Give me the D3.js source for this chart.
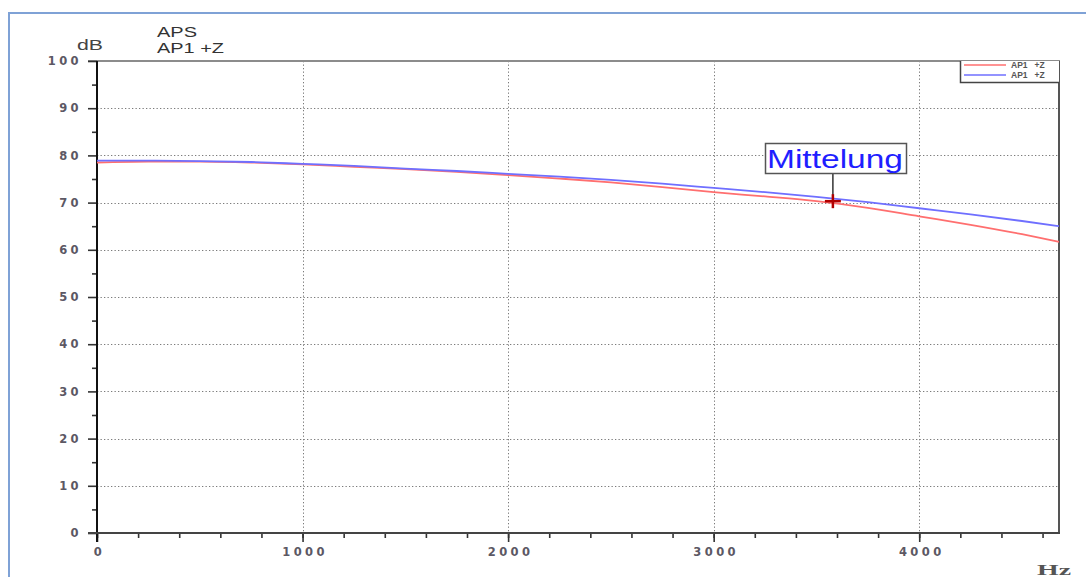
<!DOCTYPE html>
<html>
<head>
<meta charset="utf-8">
<script src="https://cdn.jsdelivr.net/npm/d3@7"></script>
<style>
  html, body { margin: 0; padding: 0; background: #fff; }
  svg { display: block; }
</style>
</head>
<body>
<svg id="chart" width="1086" height="577"></svg>
<script>
// Frequency grid (Hz) shared by both spectra
const freqs = [0, 250, 500, 750, 1000, 1250, 1500, 1750, 2000, 2250, 2500, 2750,
               3000, 3250, 3500, 3750, 4000, 4250, 4500, 4680];
// Level of the red trace (dB)
const redLevels = [78.5, 78.7, 78.7, 78.5, 78.1, 77.6, 77.1, 76.5, 75.8, 75.1, 74.3, 73.3,
                   72.2, 71.3, 70.3, 68.9, 67.1, 65.3, 63.3, 61.7];
// Level of the blue trace (dB)
const blueLevels = [78.9, 78.9, 78.8, 78.6, 78.2, 77.8, 77.2, 76.7, 76.1, 75.5, 74.8, 74.0,
                    73.1, 72.2, 71.2, 70.1, 68.8, 67.5, 66.1, 65.0];
const xTicks = [0, 1000, 2000, 3000, 4000];
const xMinorTicks = d3.range(0, 4601, 200);
const yTicks = [0, 10, 20, 30, 40, 50, 60, 70, 80, 90, 100];
const yMinorTicks = d3.range(5, 100, 10);
const legendLabels = ["AP1   +Z", "AP1   +Z"];
const titleLines = ["APS", "AP1 +Z"];
const marker = { label: "Mittelung", freq: 3580, level: 70.3 };

const svg = d3.select("#chart");
const plotL = 97, plotR = 1059, plotT = 61, plotB = 533;

const x = d3.scaleLinear().domain([0, 4680]).range([plotL, plotR]);
const y = d3.scaleLinear().domain([0, 100]).range([plotB, plotT]);

// Outer window frame
svg.append("path")
  .attr("d", `M9,577 L9,13 L1086,13`)
  .attr("fill", "none").attr("stroke", "#7fa2d6").attr("stroke-width", 2);

// Dotted grid
const grid = svg.append("g").attr("stroke", "#7a7a7a").attr("stroke-width", 1)
  .attr("stroke-dasharray", "1.3,2.2");
grid.selectAll("line.h").data(yTicks.filter(d => d > 0 && d < 100)).join("line")
  .attr("x1", plotL).attr("x2", plotR)
  .attr("y1", d => Math.round(y(d)) + 0.5).attr("y2", d => Math.round(y(d)) + 0.5);
grid.selectAll("line.v").data(xTicks.filter(d => d > 0)).join("line")
  .attr("y1", plotT).attr("y2", plotB)
  .attr("x1", d => Math.round(x(d)) + 0.5).attr("x2", d => Math.round(x(d)) + 0.5);

// Plot frame: grey top, dark right border
svg.append("line").attr("x1", 88).attr("x2", plotR + 1).attr("y1", plotT).attr("y2", plotT)
  .attr("stroke", "#8c8c8c").attr("stroke-width", 2.2);
svg.append("line").attr("x1", plotR).attr("x2", plotR).attr("y1", plotT).attr("y2", plotB)
  .attr("stroke", "#555").attr("stroke-width", 2);

// Axes
const tickFont = "'DejaVu Sans', sans-serif";
const yAxis = d3.axisLeft(y).tickValues(yTicks).tickSize(9).tickPadding(9)
  .tickFormat(d3.format("d"));
const yAxisMinor = d3.axisLeft(y).tickValues(yMinorTicks).tickSize(5).tickFormat("");
const xAxis = d3.axisBottom(x).tickValues(xTicks).tickSize(9).tickPadding(6)
  .tickFormat(d3.format("d"));
const xAxisMinor = d3.axisBottom(x).tickValues(xMinorTicks).tickSize(5).tickFormat("");

function styleAxis(g) {
  g.select(".domain").remove();
  g.selectAll("line").attr("stroke", "#333").attr("stroke-width", 1.6);
  g.selectAll("text").attr("fill", "#5c5864").attr("font-family", tickFont)
    .attr("font-weight", "bold").attr("font-size", 11.5).attr("letter-spacing", "3.4px");
}
svg.append("g").attr("transform", `translate(${plotL},0)`).call(yAxisMinor).call(styleAxis);
svg.append("g").attr("transform", `translate(${plotL},0)`).call(yAxis).call(styleAxis)
  .selectAll("text").attr("dx", "3px");
svg.append("g").attr("transform", `translate(0,${plotB})`).call(xAxisMinor).call(styleAxis);
svg.append("g").attr("transform", `translate(0,${plotB})`).call(xAxis).call(styleAxis)
  .selectAll("text").attr("dx", "2px");

svg.append("line").attr("x1", plotL).attr("x2", plotL).attr("y1", plotT).attr("y2", plotB + 9)
  .attr("stroke", "#111").attr("stroke-width", 2);
svg.append("line").attr("x1", 88).attr("x2", plotR + 1).attr("y1", plotB).attr("y2", plotB)
  .attr("stroke", "#444").attr("stroke-width", 2);

// Spectra
const line = d3.line().x((d, i) => x(freqs[i])).y(d => y(d)).curve(d3.curveMonotoneX);
svg.append("path").datum(redLevels).attr("d", line)
  .attr("fill", "none").attr("stroke", "#ff6f6f").attr("stroke-width", 1.8);
svg.append("path").datum(blueLevels).attr("d", line)
  .attr("fill", "none").attr("stroke", "#6f6fff").attr("stroke-width", 1.8);

// Legend
const lg = svg.append("g");
lg.append("rect").attr("x", 960).attr("y", plotT).attr("width", plotR - 960).attr("height", 21)
  .attr("fill", "#fff");
lg.append("path").attr("d", `M960.5,${plotT} L960.5,82.5 L${plotR},82.5`)
  .attr("fill", "none").attr("stroke", "#444").attr("stroke-width", 1.5);
const legendColors = ["#ff6f6f", "#6f6fff"];
legendLabels.forEach((lab, i) => {
  const yy = 65 + i * 10;
  lg.append("line").attr("x1", 964).attr("x2", 1006).attr("y1", yy).attr("y2", yy)
    .attr("stroke", legendColors[i]).attr("stroke-width", 1.4);
  lg.append("text").attr("x", 1011).attr("y", yy + 3).text(lab)
    .attr("font-family", "'Liberation Sans', Arial, sans-serif").attr("font-size", 8.5)
    .attr("font-weight", "bold").attr("fill", "#555").style("white-space", "pre");
});

// Axis titles and header (drawn slightly widened)
function wideText(px, py, txt, len, size, family, weight, fill) {
  return svg.append("text").attr("x", px).attr("y", py).text(txt)
    .attr("font-family", family).attr("font-size", size).attr("font-weight", weight)
    .attr("fill", fill).attr("textLength", len).attr("lengthAdjust", "spacingAndGlyphs");
}
wideText(77, 50, "dB", 26, 14, "'Liberation Sans', Arial, sans-serif", "normal", "#444");
wideText(1037, 575, "Hz", 34, 15, "'Liberation Serif', serif", "bold", "#555");
wideText(157, 37, titleLines[0], 40, 14, "'Liberation Sans', Arial, sans-serif", "normal", "#333");
wideText(157, 53, titleLines[1], 67, 14, "'Liberation Sans', Arial, sans-serif", "normal", "#333");

// Averaging marker with callout
const mx = x(marker.freq), my = y(marker.level);
svg.append("line").attr("x1", mx).attr("x2", mx).attr("y1", 173).attr("y2", my)
  .attr("stroke", "#333").attr("stroke-width", 1.5);
const mk = svg.append("g").attr("stroke", "#b00000").attr("stroke-width", 2.5);
mk.append("line").attr("x1", mx - 8).attr("x2", mx + 8).attr("y1", my).attr("y2", my);
mk.append("line").attr("x1", mx).attr("x2", mx).attr("y1", my - 7).attr("y2", my + 7);
svg.append("rect").attr("x", 765.5).attr("y", 143.5).attr("width", 141).attr("height", 30)
  .attr("fill", "#fff").attr("stroke", "#555").attr("stroke-width", 1.5);
wideText(767, 167.5, marker.label, 136, 26, "'Liberation Sans', Arial, sans-serif", "normal", "#1f1fff");
</script>
</body>
</html>
